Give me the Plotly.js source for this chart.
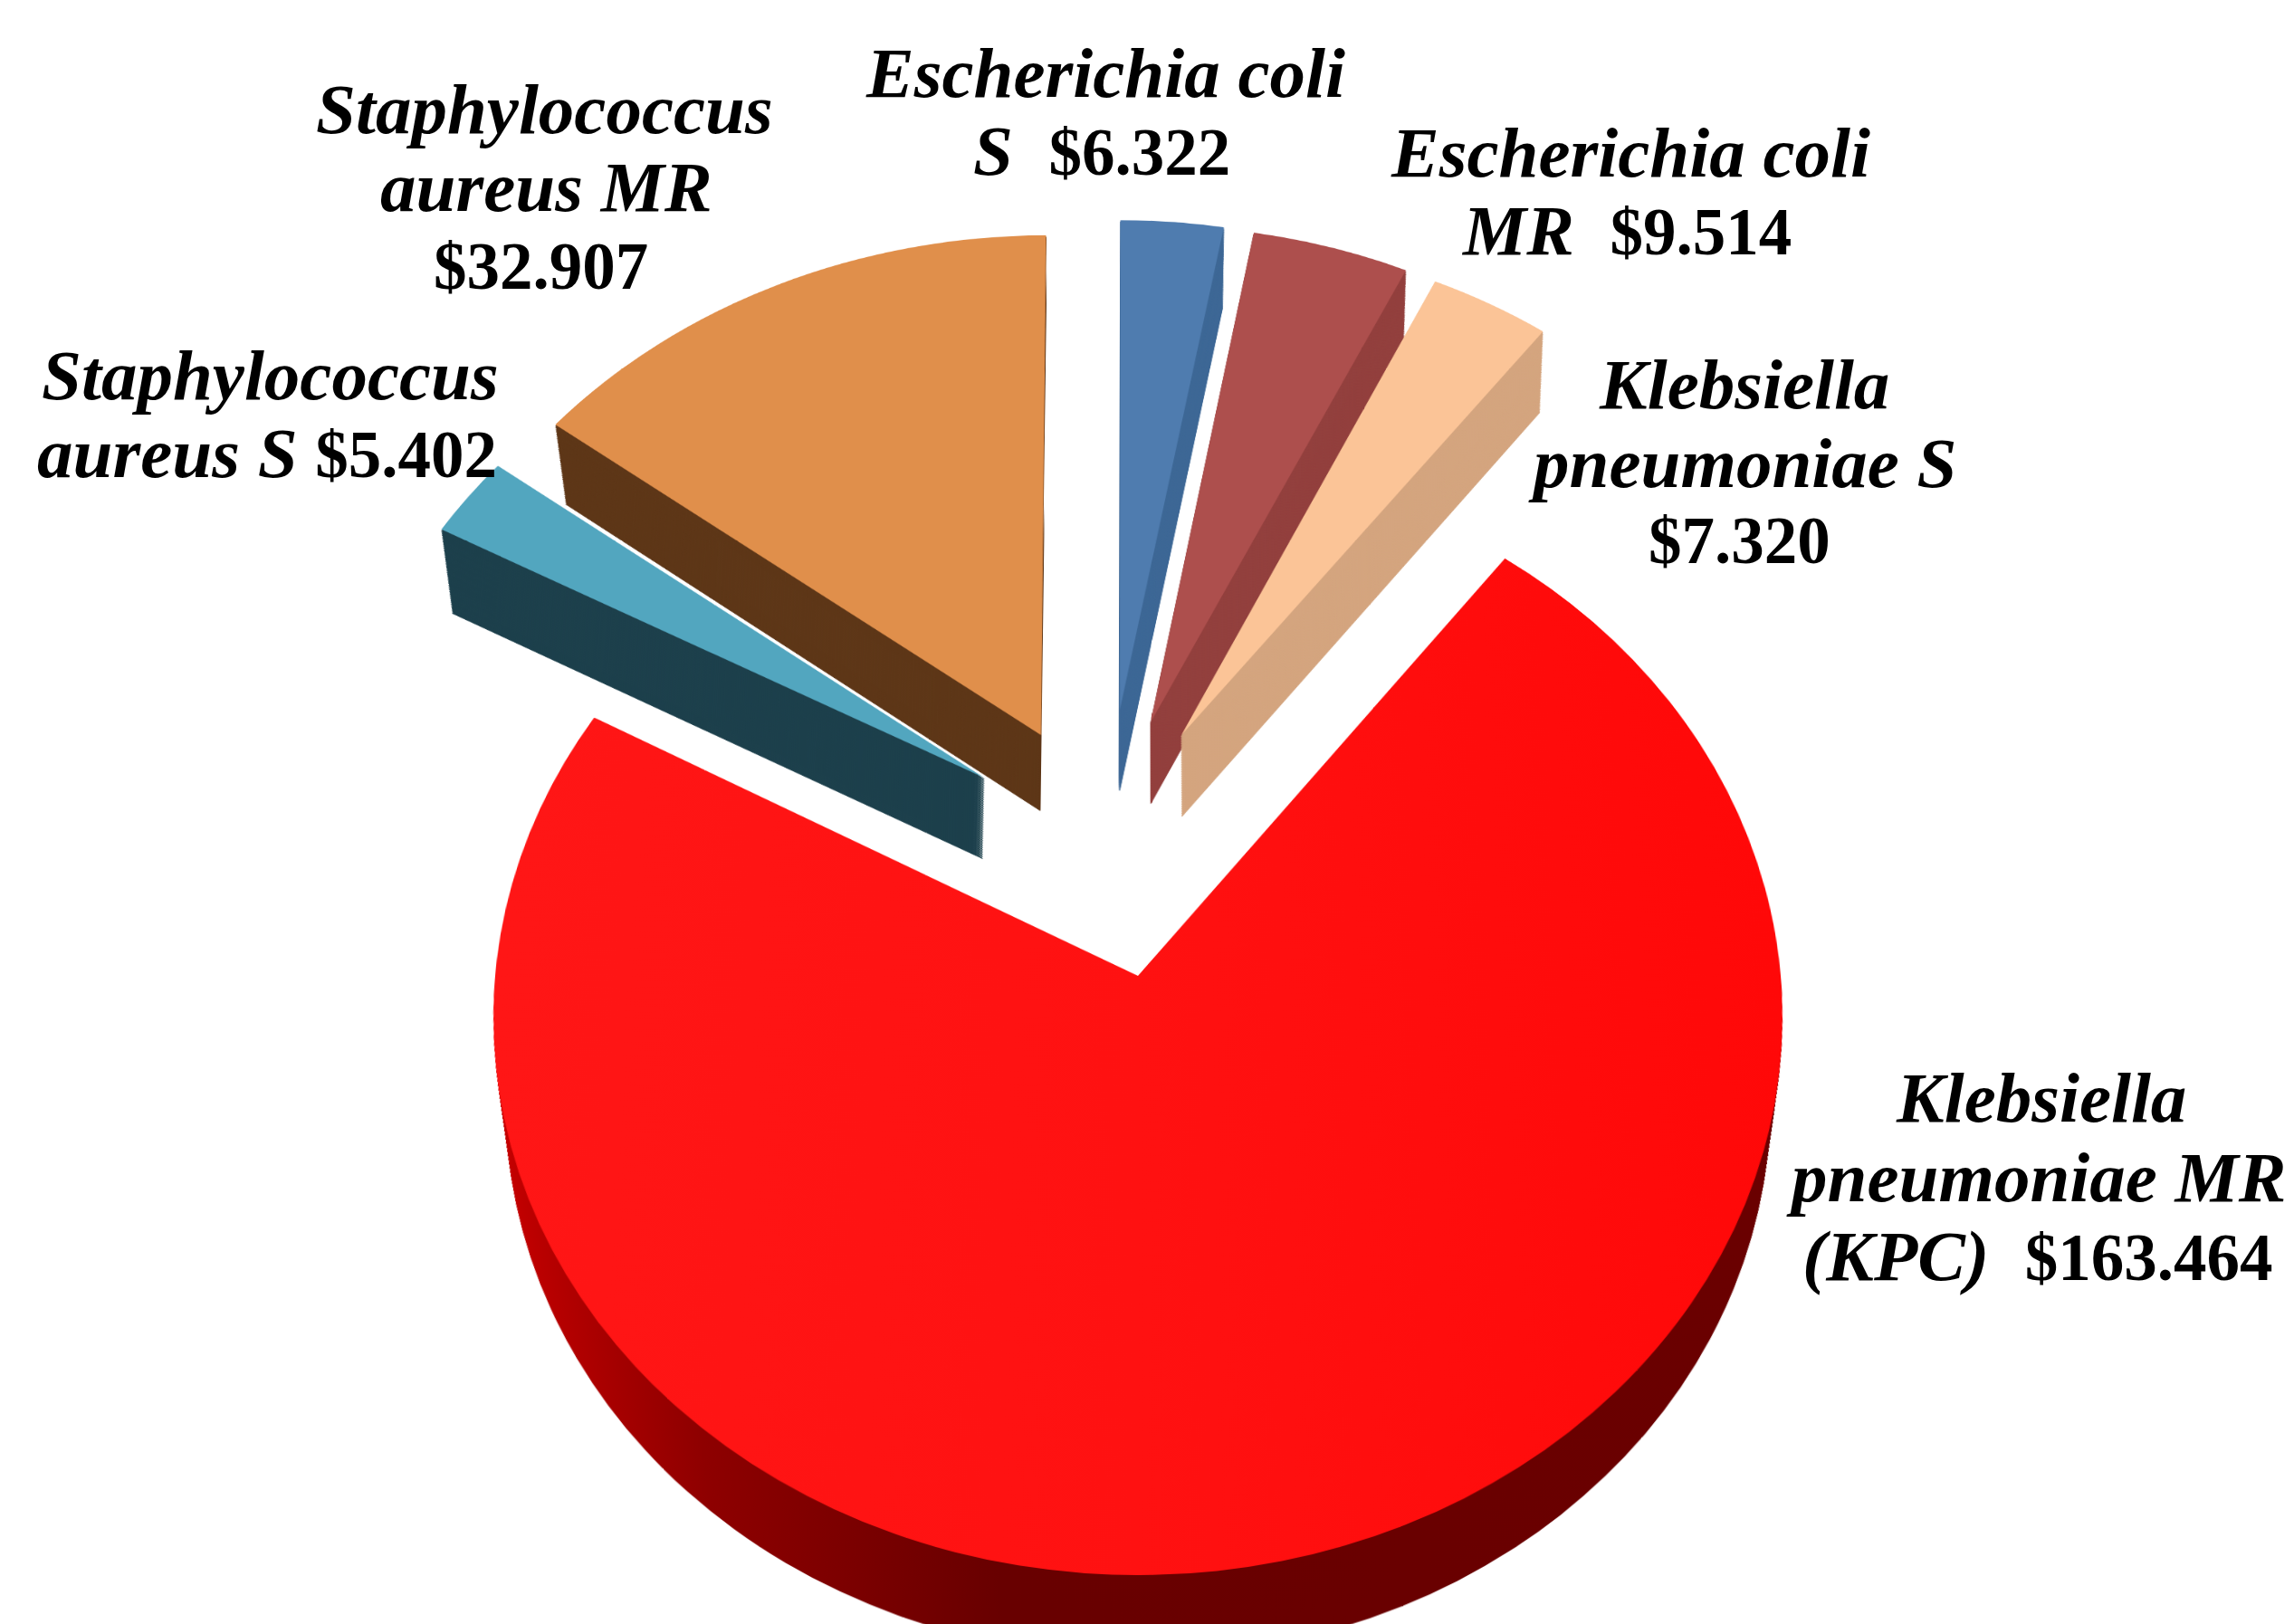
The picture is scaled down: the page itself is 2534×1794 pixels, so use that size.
<!DOCTYPE html>
<html>
<head>
<meta charset="utf-8">
<script src="https://cdn.plot.ly/plotly-3.0.1.min.js"></script>
<style>
html,body{margin:0;padding:0;background:#fff;width:2534px;height:1794px;overflow:hidden}
#chart{position:absolute;left:0;top:-150px;width:2534px;height:2244px}
</style>
</head>
<body>
<div id="chart"></div>
<script>
// ---- data (thousand dollars), clockwise from the red slice
const categories = ["Klebsiella pneumoniae MR (KPC)","Staphylococcus aureus S","Staphylococcus aureus MR","Escherichia coli S","Escherichia coli MR","Klebsiella pneumoniae S"];
const costs = [163.464, 5.402, 32.907, 6.322, 9.514, 7.320];
const topColors  = ["#FF0F0F","#52A6BF","#E08F4B","#4F7CAF","#AD4F4D","#FBC497"];
const wallColors = ["#6A0000","#1D404C","#5E3718","#3E6896","#93403E","#D4A57F"];
// where the point of every wedge lands on the page
const tipX = [1257,1087,1150,1237,1271,1305];
const tipY = [1078, 859, 812, 784, 798, 812];
const radii = [710,731,733,722,731,731];
const turn  = [0,-0.5,-0.3,-0.2,-0.2,-0.2];
const shrink = [0.03,0.035,0.035,0.022,0.022,0.022];
const depths = [110,108,102,110,110,110];
const paintOrder = [0,2,1,3,4,5];
const num = t => '<span style="font-size:73px">'+t+'</span>';
const lines = [
 ["<b><i>Staphylococcus</i></b>",601,120],["<b><i>aureus MR</i></b>",603,207],["<b>"+num("$32.907")+"</b>",597,294],
 ["<b><i>Staphylococcus</i></b>",298,414],["<b><i>aureus S</i> "+num("$5.402")+"</b>",295,501],
 ["<b><i>Escherichia coli</i></b>",1221,81],["<b><i>S</i>&nbsp;&nbsp;"+num("$6.322")+"</b>",1217,167],
 ["<b><i>Escherichia coli</i></b>",1801,168],["<b><i>MR</i>&nbsp;&nbsp;"+num("$9.514")+"</b>",1796,255],
 ["<b><i>Klebsiella</i></b>",1926,424],["<b><i>pneumoniae S</i></b>",1925,511],["<b>"+num("$7.320")+"</b>",1921,598],
 ["<b><i>Klebsiella</i></b>",2254,1212],["<b><i>pneumoniae MR</i></b>",2249,1300],["<b><i>(KPC)</i>&nbsp;&nbsp;"+num("$163.464")+"</b>",2251,1387]
];

// ---- geometry
const W=2534,H=2244,OFF=150, step=2, FIRST=37.2;
const THETA=30.3, PERSP=4840, ORX=1257, ORY=1078;
const sn=Math.sin(THETA*Math.PI/180), cs=Math.cos(THETA*Math.PI/180);
function unproject(px,py){
  const s=ORY-py, x=px-ORX;
  const v=s/(cs-s*sn/PERSP), u=x*(1+v*sn/PERSP);
  return [ORX+u, ORY-v];
}
const total=costs.reduce((a,b)=>a+b,0);
const starts=[]; let acc=FIRST;
costs.forEach(c=>{starts.push(acc); acc+=c/total*360;});
function wedge(i,dy,color){
  const [cx,cy0]=unproject(tipX[i],tipY[i]);
  const cy=cy0+OFF+dy, r=radii[i]*(1-shrink[i]*dy/depths[i]);
  const edge=(dy>0&&i>0)?1:0;
  return {type:'pie',values:[costs[i],total-costs[i]],labels:[categories[i],'other'],
    sort:false,direction:'clockwise',rotation:(starts[i]+turn[i])%360,
    marker:{colors:[color,'rgba(0,0,0,0)'],line:{width:[edge,0],color:[color,'rgba(0,0,0,0)']}},
    textinfo:'none',hoverinfo:'skip',showlegend:false,
    domain:{x:[(cx-r)/W,(cx+r)/W],y:[1-(cy+r)/H,1-(cy-r)/H]}};
}
const traces=[]; const redWall=[]; let redTop=-1;
paintOrder.forEach(i=>{
  for(let d=depths[i];d>0;d-=step){ if(i===0) redWall.push(traces.length); traces.push(wedge(i,d,wallColors[i])); }
  if(i===0) redTop=traces.length;
  traces.push(wedge(i,0,topColors[i]));
});
const annotations=lines.map(l=>({text:l[0],xref:'paper',yref:'paper',x:l[1]/W,y:1-(l[2]+OFF)/H,
  xanchor:'center',yanchor:'middle',showarrow:false,
  font:{family:'"Liberation Serif","Times New Roman",serif',size:79,color:'#000'}}));
const layout={width:W,height:H,margin:{l:0,r:0,t:0,b:0},paper_bgcolor:'rgba(0,0,0,0)',plot_bgcolor:'rgba(0,0,0,0)',
  showlegend:false,annotations:annotations};
Plotly.newPlot('chart',traces,layout,{displayModeBar:false,staticPlot:true}).then(gd=>{
  const svg=gd.querySelectorAll('svg.main-svg')[0];
  svg.style.transformOrigin=ORX+'px '+(ORY+OFF)+'px';
  svg.style.transform='perspective('+PERSP+'px) rotateX('+THETA+'deg)';
  svg.style.background='transparent';
  const NS='http://www.w3.org/2000/svg';
  const defs=svg.querySelector('defs')||svg.insertBefore(document.createElementNS(NS,'defs'),svg.firstChild);
  function grad(id,stops){
    const g=document.createElementNS(NS,'linearGradient'); g.setAttribute('id',id);
    g.setAttribute('x1','0');g.setAttribute('x2','1');g.setAttribute('y1','0');g.setAttribute('y2','0');
    stops.forEach(s=>{const e=document.createElementNS(NS,'stop');e.setAttribute('offset',s[0]);e.setAttribute('stop-color',s[1]);g.appendChild(e);});
    defs.appendChild(g);
  }
  grad('redwall',[[0,'#C80000'],[0.18,'#8E0000'],[0.4,'#680000'],[1,'#6A0000']]);
  grad('redtop',[[0,'#FF1616'],[0.5,'#FF1111'],[1,'#FF0808']]);
  const tr=svg.querySelectorAll('.pielayer .trace');
  const paint=(n,id)=>{const p=tr[n]&&tr[n].querySelector('.slice path.surface'); if(p) p.style.fill='url(#'+id+')';};
  redWall.forEach(n=>paint(n,'redwall'));
  paint(redTop,'redtop');
});
</script>
</body>
</html>
